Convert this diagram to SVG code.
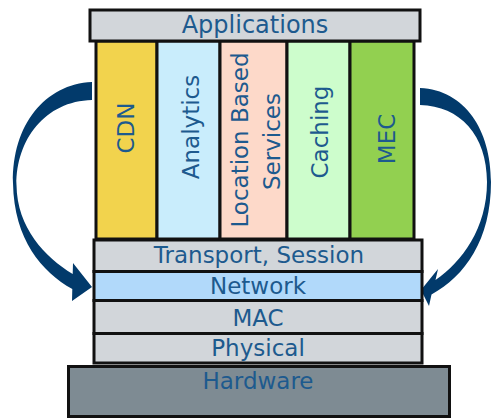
<svg xmlns="http://www.w3.org/2000/svg" width="493" height="420" viewBox="0 0 493 420">
<style>
.box{stroke:#111;stroke-width:3}
.gray{fill:#d2d6da}
.t{font-family:"DejaVu Sans",sans-serif;font-size:23px;fill:#1d5a8e;text-anchor:middle}
.arr{fill:#023a6b}
</style>
<rect width="493" height="420" fill="#fff"/>
<g id="connectors">
<path class="arr" d="M 92 82 C 45 84, 12 125, 13 183 C 14 240, 42 272, 72.3 289 L 72 301 L 92 287 L 73 263 L 72.7 274 C 45 257, 17 228, 16.5 185 C 16 140, 45 101, 92 100 Z"/>
<path class="arr" d="M 420 88 C 465 90, 491 130, 491 182 C 491 240, 465 276, 431.5 294.5 L 429 306 L 421 290 L 438 269 L 435.5 280 C 462 262, 487 228, 487 182 C 487 135, 460 106, 420 105 Z"/>
</g>
<g id="hardware">
<rect class="box" x="68.5" y="366.5" width="381" height="50" fill="#7e8b93"/>
<text class="t" x="258" y="389">Hardware</text>
</g>
<g id="physical">
<rect class="box gray" x="94" y="333.5" width="328" height="29.5"/>
<text class="t" x="258" y="356">Physical</text>
</g>
<g id="mac">
<rect class="box gray" x="94" y="300.5" width="328" height="33"/>
<text class="t" x="258" y="326">MAC</text>
</g>
<g id="network">
<rect class="box" x="94" y="271.5" width="328" height="29" fill="#b1d9fa"/>
<text class="t" x="258" y="294">Network</text>
</g>
<g id="transport">
<rect class="box gray" x="94" y="240" width="328" height="31.5"/>
<text class="t" x="259" y="263">Transport, Session</text>
</g>
<g id="cdn">
<rect class="box" x="96" y="41" width="61" height="198" fill="#f2d34d"/>
<text class="t" transform="translate(134 128) rotate(-90)">CDN</text>
</g>
<g id="analytics">
<rect class="box" x="157" y="41" width="63" height="198" fill="#c9edfc"/>
<text class="t" transform="translate(199 127) rotate(-90)">Analytics</text>
</g>
<g id="location">
<rect class="box" x="220" y="41" width="67" height="198" fill="#fdd9c9"/>
<text class="t" transform="translate(248 140) rotate(-90)">Location Based</text>
<text class="t" transform="translate(280 141.5) rotate(-90)">Services</text>
</g>
<g id="caching">
<rect class="box" x="287" y="41" width="63" height="198" fill="#cdfdcc"/>
<text class="t" transform="translate(328 132) rotate(-90)">Caching</text>
</g>
<g id="mec">
<rect class="box" x="350" y="41" width="64" height="198" fill="#92d050"/>
<text class="t" transform="translate(395 139) rotate(-90)">MEC</text>
</g>
<g id="applications">
<rect class="box gray" x="90" y="10" width="330" height="31"/>
<text class="t" x="255" y="33" style="font-size:24px">Applications</text>
</g>
</svg>
